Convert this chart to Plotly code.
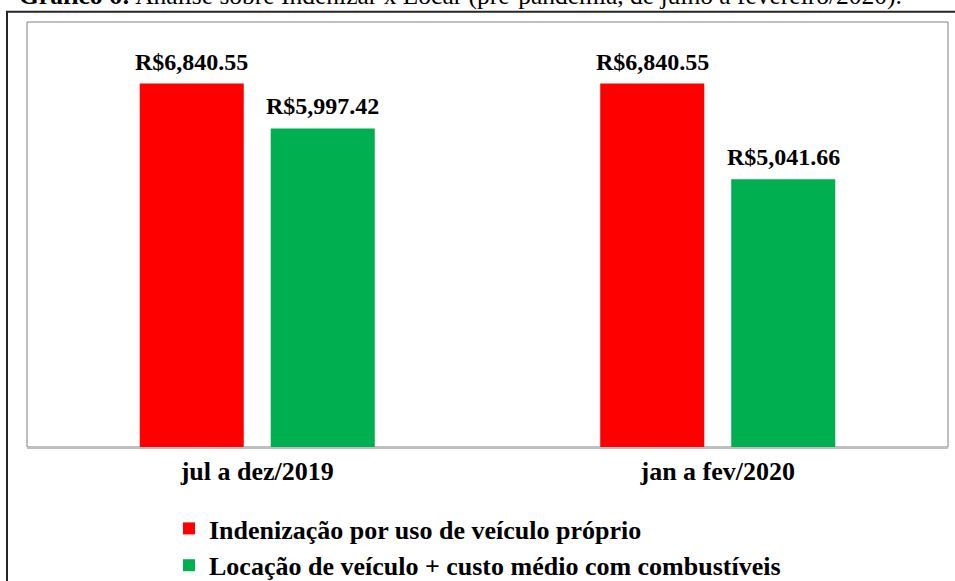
import plotly.graph_objects as go

categories = ["jul a dez/2019", "jan a fev/2020"]
series_names = ["Indenização por uso de veículo próprio",
                "Locação de veículo + custo médio com combustíveis"]
indenizacao = [6840.55, 6840.55]
locacao = [5997.42, 5041.66]
colors = ["#FF0000", "#00B050"]
title_text = "<b>Gráfico 6:</b> Análise sobre Indenizar x Locar (pré-pandemia, de julho a fevereiro/2020)."

W, H = 955, 581
ML, MR, MT, MB = 27, 7, 22, 134
PW, PH = W - ML - MR, H - MT - MB

def px_x(px):
    return (px - ML) / PW

def px_y(py):
    return (H - MB - py) / PH

SERIF = "Liberation Serif"
BARGAP, GROUPGAP = 0.431, 0.206
# horizontal offset (px) of each bar centre from its category centre
cat_px = PW / len(categories)
slot_px = cat_px * (1 - BARGAP) / 2
offsets = [-slot_px / 2, slot_px / 2]

fig = go.Figure()
for name, vals, col in zip(series_names, [indenizacao, locacao], colors):
    fig.add_trace(go.Bar(
        x=categories, y=vals, name="<b>" + name + "</b>",
        marker=dict(color=col, line=dict(width=0)),
        legendgroup=name, hoverinfo="skip",
    ))

for vals, off in zip([indenizacao, locacao], offsets):
    for cat, v in zip(categories, vals):
        fig.add_annotation(
            x=cat, y=v, xref="x", yref="y", text="<b>R$" + f"{v:,.2f}" + "</b>",
            showarrow=False, xanchor="center", yanchor="bottom",
            xshift=off, yshift=7,
            font=dict(family=SERIF, size=24, color="black"),
        )

fig.update_layout(
    width=W, height=H,
    margin=dict(l=ML, r=MR, t=MT, b=MB, pad=0, autoexpand=False),
    paper_bgcolor="white", plot_bgcolor="white",
    barmode="group", bargap=BARGAP, bargroupgap=GROUPGAP,
    showlegend=True,
    legend=dict(
        orientation="v", xref="container", yref="container",
        x=169 / W, xanchor="left", y=1 - 505 / H, yanchor="top",
        font=dict(family=SERIF, size=26, color="black"),
        traceorder="grouped", tracegroupgap=0,
        bgcolor="rgba(0,0,0,0)", borderwidth=0,
    ),
    xaxis=dict(
        showline=True, linecolor="#BFBFBF", linewidth=2, ticks="",
        showgrid=False, zeroline=False, tickangle=0,
        tickfont=dict(family=SERIF, size=26, color="black"),
        tickprefix="<b>", ticksuffix="</b>",
    ),
    yaxis=dict(range=[0, 8000], visible=False, showgrid=False, zeroline=False),
    font=dict(family=SERIF, color="black"),
)

# plot-area border
fig.add_shape(type="rect", xref="paper", yref="paper", x0=0, x1=1, y0=0, y1=1,
              line=dict(color="#808080", width=1), layer="below")
# outer chart frame (extends past the picture on right and bottom)
fig.add_shape(type="rect", xref="paper", yref="paper",
              x0=px_x(7), x1=px_x(1000), y0=px_y(620), y1=px_y(11.7),
              line=dict(color="#262626", width=2), layer="below")

fig.add_annotation(text=title_text, xref="paper", yref="paper",
                   x=px_x(17), y=px_y(12), xanchor="left", yanchor="bottom",
                   showarrow=False, font=dict(family=SERIF, size=25.5, color="black"))

fig.write_html("out.html", config={"displayModeBar": False},
               post_script="document.body.style.margin='0';document.body.style.overflow='hidden';")
